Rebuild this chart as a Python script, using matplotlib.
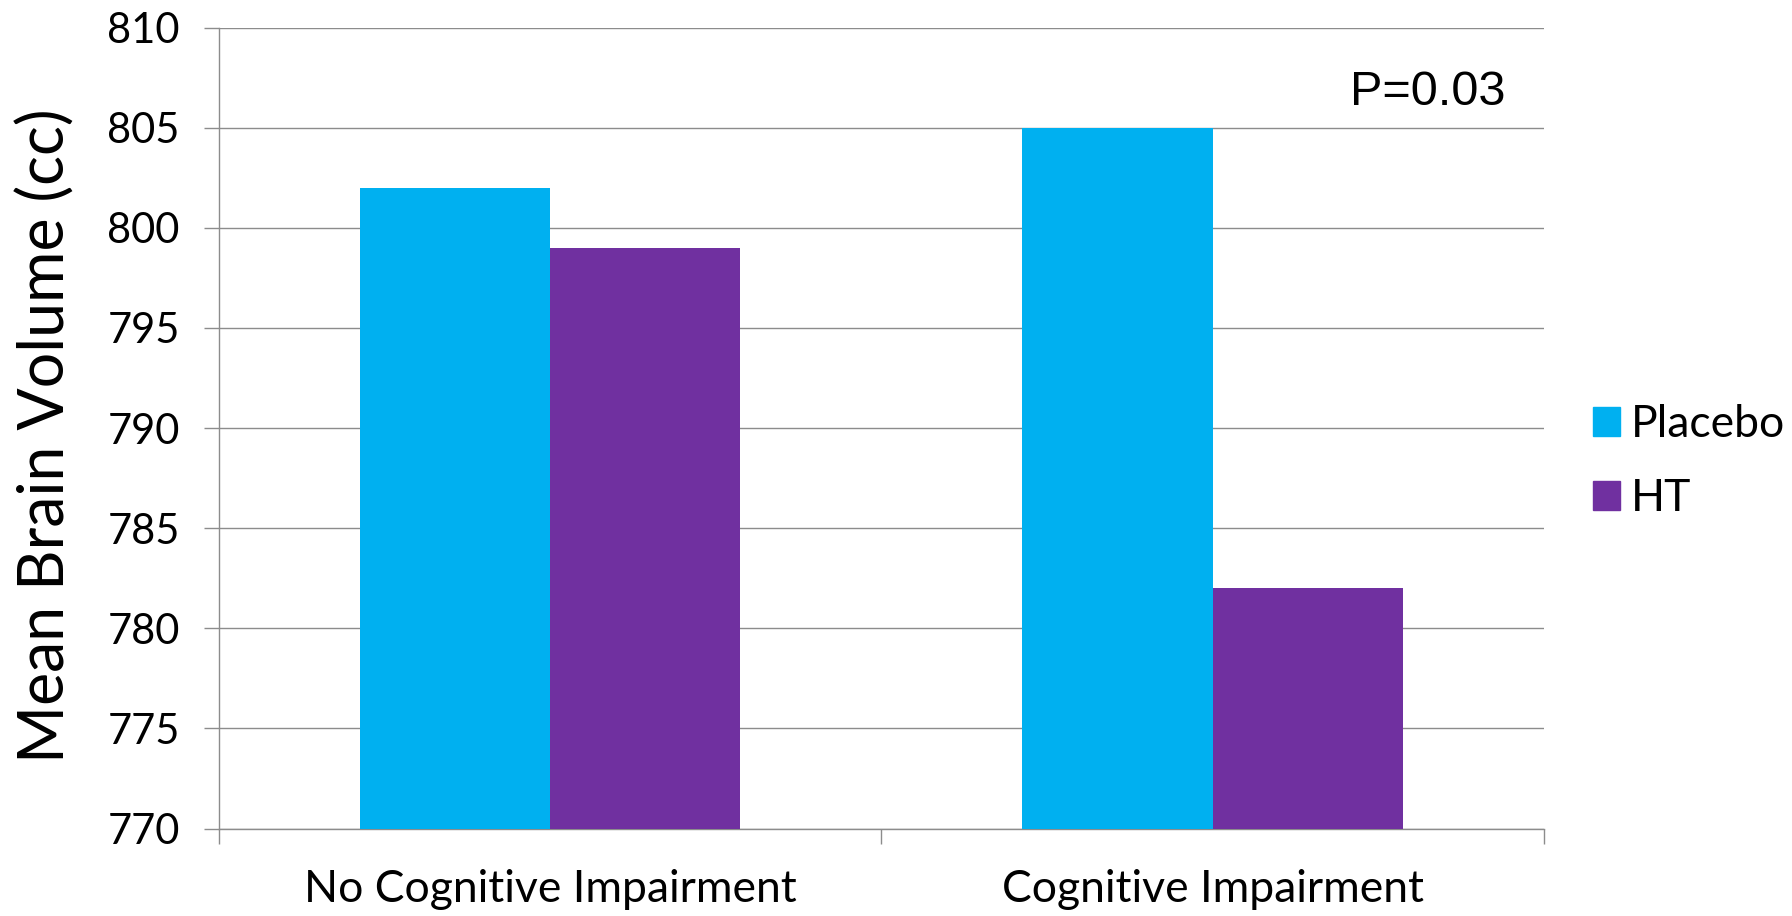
import matplotlib.pyplot as plt
from matplotlib.patches import Patch
import numpy as np

categories = ["No Cognitive Impairment", "Cognitive Impairment"]
series_names = ["Placebo", "HT"]
placebo_values = [802, 805]
ht_values = [799, 782]
series_colors = ["#00B0F0", "#7030A0"]
y_ticks = [770, 775, 780, 785, 790, 795, 800, 805, 810]
p_label = "P=0.03"

LABEL_FONT = "Lato"
GRID_COLOR = "#8c8c8c"

fig = plt.figure(figsize=(17.92, 9.16), dpi=100)
ax = fig.add_axes([0.122, 0.0955, 0.7396, 0.8743])

centers = np.arange(len(categories)) + 0.5
bar_width = 0.287
bottom = y_ticks[0]

for offset, values, color, name in zip(
    (-bar_width / 2, bar_width / 2),
    (placebo_values, ht_values),
    series_colors,
    series_names,
):
    heights = [v - bottom for v in values]
    ax.bar(centers + offset, heights, bar_width, bottom=bottom,
           color=color, label=name, zorder=3)

ax.set_xlim(0, len(categories))
ax.set_ylim(y_ticks[0], y_ticks[-1])
ax.set_yticks(y_ticks)
ax.set_yticklabels([str(t) for t in y_ticks], fontsize=30, family=LABEL_FONT)

# category boundaries carry the tick marks, names sit between them
ax.set_xticks(np.arange(len(categories) + 1))
ax.set_xticklabels([])
ax.set_xticks(centers, minor=True)
ax.set_xticklabels(categories, minor=True, fontsize=32, family=LABEL_FONT)
ax.tick_params(axis="x", which="major", length=11, color=GRID_COLOR, width=1)
ax.tick_params(axis="x", which="minor", length=0, pad=29)
ax.tick_params(axis="y", length=11, color=GRID_COLOR, width=1, pad=17)

ax.grid(axis="y", color=GRID_COLOR, linewidth=1, zorder=0)
ax.set_axisbelow(True)
for side in ("top", "right"):
    ax.spines[side].set_visible(False)
for side in ("left", "bottom"):
    ax.spines[side].set_color(GRID_COLOR)
    ax.spines[side].set_linewidth(1)

fig.text(46 / 1792, 1 - 436 / 916, "Mean Brain Volume (cc)", rotation=90,
         fontsize=45, family=LABEL_FONT, ha="center", va="center")

ax.text(1.825, 806.14, p_label, fontsize=35, family="Liberation Sans",
        ha="center", va="baseline")

handles = [Patch(color=c, label=n) for c, n in zip(series_colors, series_names)]
fig.legend(handles=handles, loc="center left", bbox_to_anchor=(0.889, 0.496),
           frameon=False, prop={"family": LABEL_FONT, "size": 32},
           handlelength=0.61, handleheight=0.61, handletextpad=0.25,
           labelspacing=0.74, borderpad=0, borderaxespad=0)

fig.savefig("out.png", dpi=100)
